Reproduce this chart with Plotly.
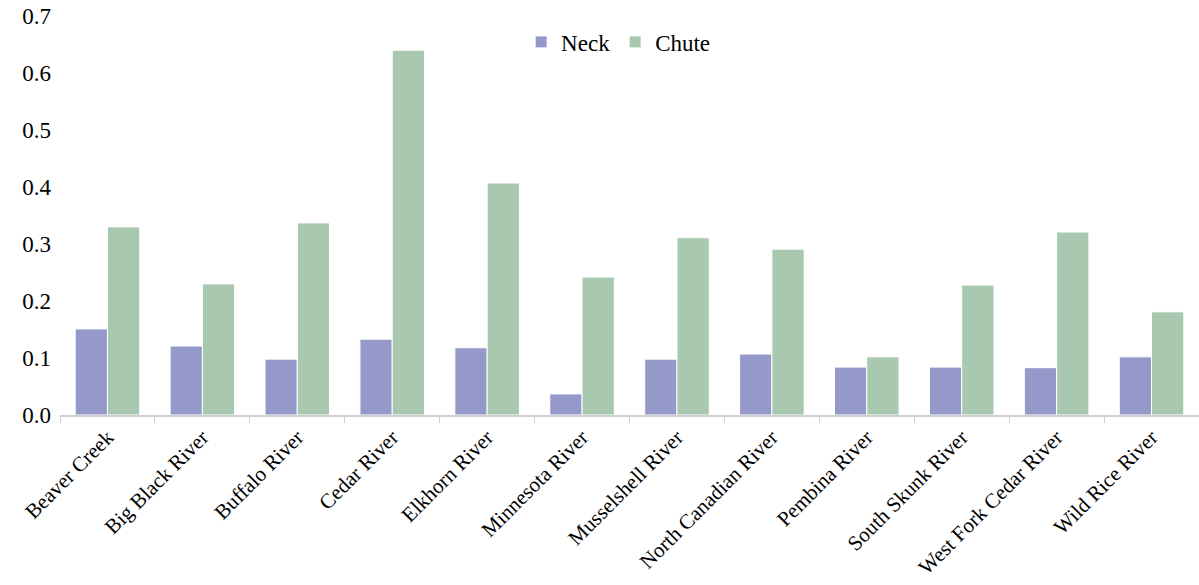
import plotly.graph_objects as go

rivers = [
    "Beaver Creek", "Big Black River", "Buffalo River", "Cedar River",
    "Elkhorn River", "Minnesota River", "Musselshell River",
    "North Canadian River", "Pembina River", "South Skunk River",
    "West Fork Cedar River", "Wild Rice River",
]
neck = [0.151, 0.121, 0.098, 0.133, 0.118, 0.037, 0.098, 0.107, 0.084, 0.084, 0.083, 0.102]
chute = [0.330, 0.230, 0.337, 0.640, 0.407, 0.242, 0.311, 0.291, 0.102, 0.228, 0.321, 0.181]
y_ticks = [0.0, 0.1, 0.2, 0.3, 0.4, 0.5, 0.6, 0.7]

serif = "Liberation Serif"

fig = go.Figure()
fig.add_trace(go.Bar(x=rivers, y=neck, name="Neck",
                     marker=dict(color="#9499CA", line=dict(color="white", width=1))))
fig.add_trace(go.Bar(x=rivers, y=chute, name="Chute",
                     marker=dict(color="#A8C8AF", line=dict(color="white", width=1))))

fig.update_layout(
    width=1199, height=585,
    margin=dict(l=60, r=0, t=16, b=170, autoexpand=False),
    paper_bgcolor="white", plot_bgcolor="white",
    barmode="group", bargap=0.32, bargroupgap=0.0,
    font=dict(family=serif, size=21, color="black"),
    legend=dict(orientation="h", x=0.49, xanchor="center", y=0.935, yanchor="middle",
                font=dict(family=serif, size=23, color="black"),
                itemwidth=30, traceorder="normal"),
    xaxis=dict(
        tickangle=-45, showline=True, linecolor="#D0D0D0", linewidth=1.5,
        ticks="outside", tickson="boundaries", ticklen=6, tickcolor="#D0D0D0",
        tickfont=dict(family=serif, size=21, color="black"), showgrid=False,
        automargin=False,
    ),
    yaxis=dict(
        range=[0, 0.7], tickvals=y_ticks, tickformat=".1f", showgrid=False,
        zeroline=False, showline=False, ticks="",
        tickfont=dict(family=serif, size=23, color="black"),
        ticklabelstandoff=8, automargin=False,
    ),
)

fig.write_html("out.html")
